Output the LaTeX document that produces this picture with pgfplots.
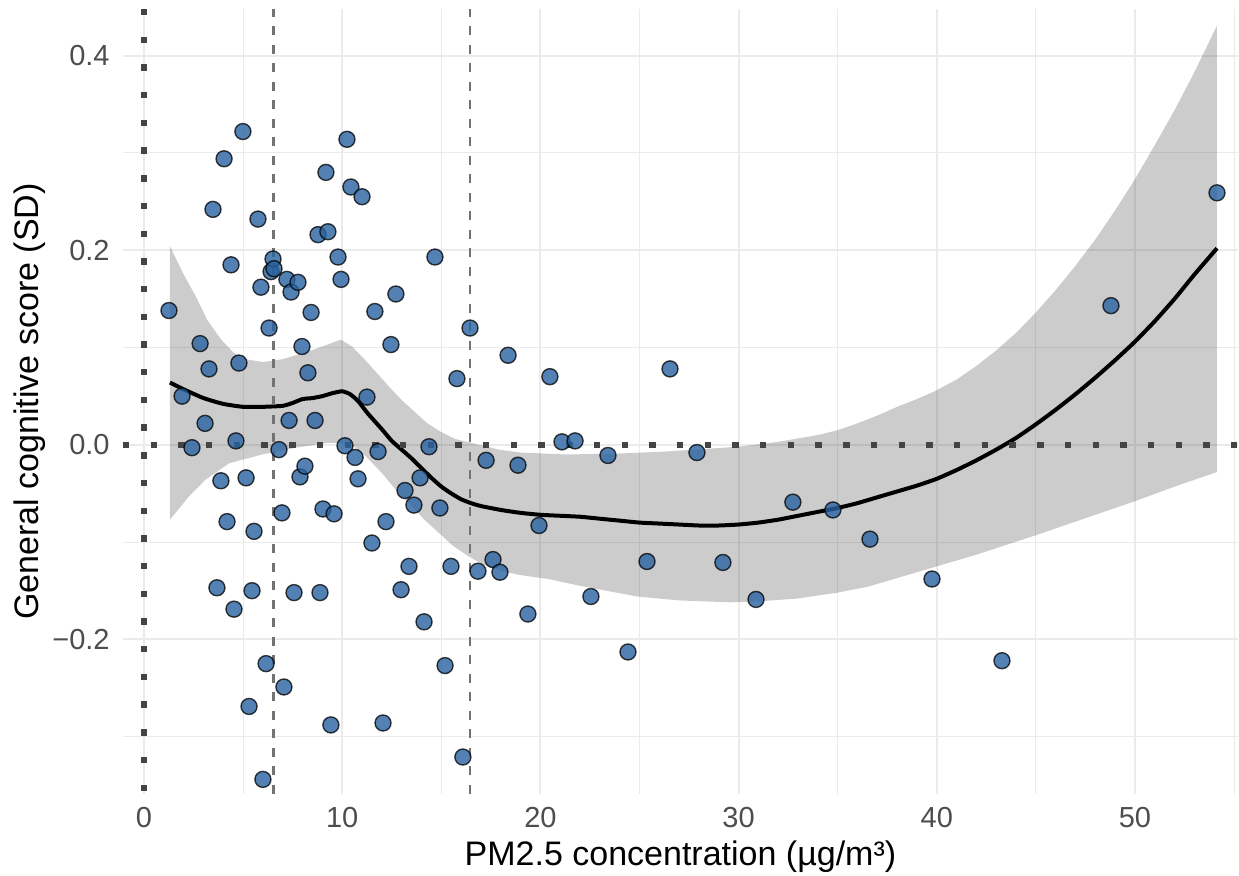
\documentclass[border=0pt]{standalone}
\usepackage{fontspec}
\setmainfont{Liberation Sans}
\usepackage{pgfplots}
\usepackage{pgfplotstable}
\pgfplotsset{compat=1.18}
\definecolor{ptfill}{RGB}{40,98,160}
\definecolor{ticktext}{RGB}{77,77,77}
\definecolor{gridc}{RGB}{235,235,235}
\definecolor{refdot}{RGB}{68,68,68}
\definecolor{refdash}{RGB}{115,115,115}

\pgfplotstableread{
x y
1.26 0.138
1.92 0.050
2.42 -0.003
2.83 0.104
3.08 0.022
3.28 0.078
3.48 0.242
3.68 -0.147
3.88 -0.037
4.04 0.294
4.19 -0.079
4.39 0.185
4.54 -0.169
4.64 0.004
4.79 0.084
4.99 0.322
5.15 -0.034
5.30 -0.269
5.45 -0.150
5.55 -0.089
5.75 0.232
5.90 0.162
6.00 -0.344
6.16 -0.225
6.31 0.120
6.41 0.178
6.51 0.191
6.56 0.181
6.81 -0.005
6.96 -0.070
7.06 -0.249
7.21 0.170
7.32 0.025
7.42 0.157
7.57 -0.152
7.77 0.167
7.87 -0.033
7.97 0.101
8.12 -0.022
8.27 0.074
8.43 0.136
8.63 0.025
8.78 0.216
8.88 -0.152
9.03 -0.066
9.18 0.280
9.28 0.219
9.43 -0.288
9.59 -0.071
9.79 0.193
9.94 0.170
10.14 -0.001
10.24 0.314
10.44 0.265
10.65 -0.013
10.80 -0.035
11.00 0.255
11.25 0.049
11.50 -0.101
11.65 0.137
11.81 -0.007
12.06 -0.286
12.21 -0.079
12.46 0.103
12.71 0.155
12.97 -0.149
13.17 -0.047
13.37 -0.125
13.62 -0.062
13.93 -0.034
14.13 -0.182
14.38 -0.002
14.68 0.193
14.93 -0.065
15.19 -0.227
15.49 -0.125
15.79 0.068
16.09 -0.321
16.45 0.120
16.85 -0.130
17.26 -0.016
17.61 -0.118
17.96 -0.131
18.37 0.092
18.87 -0.021
19.37 -0.174
19.93 -0.083
20.48 0.070
21.09 0.003
21.75 0.004
22.55 -0.156
23.41 -0.011
24.42 -0.213
25.38 -0.120
26.54 0.078
27.90 -0.008
29.21 -0.121
30.88 -0.159
32.74 -0.059
34.76 -0.067
36.63 -0.097
39.76 -0.138
43.29 -0.222
48.79 0.143
54.14 0.259
}\points

\pgfplotstableread{
x y
1.31 0.064
2 0.057
3 0.048
4 0.042
5 0.039
6 0.039
7 0.040
7.5 0.043
8 0.047
8.5 0.048
9 0.050
9.5 0.053
10 0.055
10.4 0.052
10.8 0.045
11.3 0.032
12 0.016
12.5 0.004
13 -0.005
13.5 -0.014
14 -0.024
14.5 -0.034
15 -0.043
15.5 -0.050
16 -0.056
16.5 -0.060
17 -0.063
18 -0.067
19 -0.070
20 -0.072
21 -0.073
22 -0.074
23 -0.076
24 -0.078
25 -0.080
26 -0.081
27 -0.082
28 -0.083
29 -0.083
30 -0.082
31 -0.080
32 -0.077
33 -0.073
34 -0.069
35 -0.065
36 -0.060
37 -0.054
38 -0.048
39 -0.042
40 -0.035
41 -0.026
42 -0.016
43 -0.005
44 0.007
45 0.021
46 0.036
47 0.052
48 0.069
49 0.087
50 0.106
51 0.127
52 0.150
53 0.175
54.14 0.202
}\fit

\pgfplotstableread{
x y
1.31 0.204
2 0.175
2.6 0.153
3.2 0.128
3.9 0.108
4.5 0.095
5.1 0.088
6 0.085
7 0.088
8.3 0.096
9.93 0.108
10.5 0.101
11.3 0.084
12.35 0.060
13 0.046
13.7 0.033
14.3 0.022
15 0.013
15.7 0.006
16.5 0.002
17.9 -0.005
19 -0.008
21.3 -0.010
24 -0.009
26.3 -0.007
30 -0.002
32 0.003
34 0.010
35 0.015
36 0.022
37 0.030
38 0.039
39 0.047
39.9 0.055
41 0.067
42 0.081
43 0.097
44 0.115
45 0.136
46 0.159
47 0.184
48 0.211
49 0.241
50 0.273
51 0.308
52 0.344
53 0.383
54.14 0.431
54.14 -0.028
52 -0.043
50 -0.058
48 -0.072
45 -0.093
42 -0.113
40 -0.125
38 -0.137
36.5 -0.146
35 -0.152
33 -0.158
31 -0.161
29.6 -0.162
27 -0.160
24.9 -0.156
22 -0.145
20.4 -0.138
19 -0.134
17.9 -0.129
17.1 -0.123
16.4 -0.115
15.6 -0.104
14.9 -0.091
14.2 -0.078
13.5 -0.063
12.85 -0.050
12 -0.029
11.2 -0.012
10.7 -0.003
10 0.002
9.3 0.002
7.66 -0.003
5.95 -0.010
4.3 -0.019
3.1 -0.036
2.27 -0.053
1.31 -0.077
}\band

\begin{document}
\begin{tikzpicture}
\begin{axis}[
  scale only axis, width=557.5pt, height=392.5pt,
  xmin=-1.06, xmax=55.2, ymin=-0.359, ymax=0.448,
  axis line style={draw=none},
  major tick length=0pt, minor tick length=0pt,
  xtick={0,10,20,30,40,50}, xticklabels={0,10,20,30,40,50},
  minor xtick={5,15,25,35,45,55},
  ytick={-0.2,0,0.2,0.4}, yticklabels={−0.2,0.0,0.2,0.4},
  minor ytick={-0.3,-0.1,0.1,0.3},
  grid=both,
  major grid style={draw=gridc, line width=1pt},
  minor grid style={draw=gridc, line width=0.5pt},
  /pgf/number format/assume math mode=true,
  ticklabel style={font=\fontsize{14.5}{16}\selectfont, text=ticktext},
  xticklabel style={anchor=base, yshift=-17pt},
  yticklabel style={anchor=east, inner sep=0pt, xshift=-6.5pt},
  xlabel={PM2.5 concentration (µg/m³)},
  ylabel={General cognitive score (SD)},
  label style={font=\fontsize{17}{20}\selectfont, text=black},
  xlabel style={at={(axis description cs:0.5,-0.0917)}, anchor=base},
  ylabel style={at={(axis description cs:-0.0762,0.5)}, anchor=base},
]
\addplot[only marks, mark=*, mark size=4pt,
  mark options={fill=ptfill, fill opacity=0.8, draw=black, draw opacity=0.75, line width=0.7pt}]
  table[x=x, y=y] {\points};
\addplot[draw=none, fill=black, fill opacity=0.2] table[x=x, y=y] {\band};
\addplot[black, line width=2pt, smooth, tension=0.3] table[x=x, y=y] {\fit};
\addplot[refdash, line width=1.1pt, dash pattern=on 4.5pt off 4.75pt] coordinates {(6.53,-0.359) (6.53,0.448)};
\addplot[refdash, line width=1.1pt, dash pattern=on 4.5pt off 4.75pt] coordinates {(16.45,-0.359) (16.45,0.448)};
\addplot[refdot, line width=3.2pt, dash pattern=on 3.2pt off 10.65pt] coordinates {(-1.06,0) (55.2,0)};
\addplot[refdot, line width=3.2pt, dash pattern=on 3.2pt off 10.65pt] coordinates {(0,0.448) (0,-0.359)};
\end{axis}
\pgfresetboundingbox
\path[use as bounding box] (-61.5pt,-41pt) rectangle (558pt,397pt);
\end{tikzpicture}
\end{document}
